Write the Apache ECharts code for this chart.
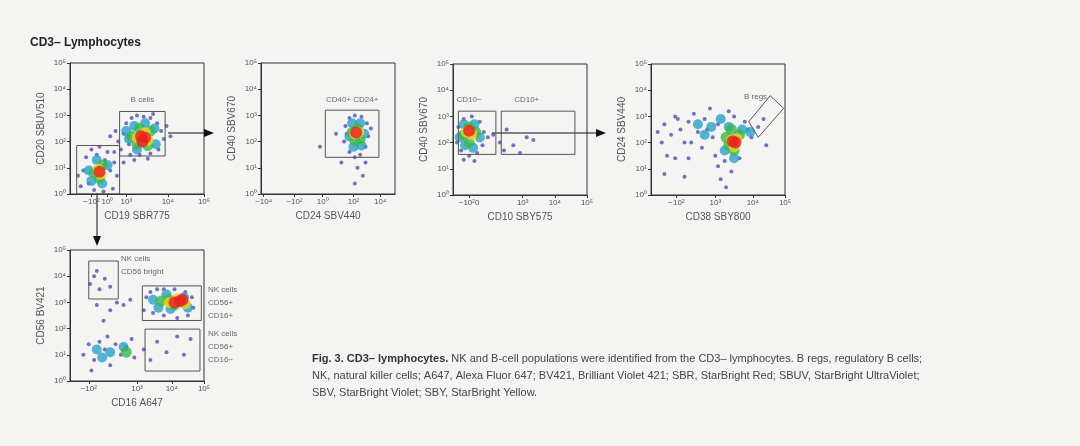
<!DOCTYPE html><html><head><meta charset="utf-8">
<script src="https://cdn.jsdelivr.net/npm/echarts@6/dist/echarts.min.js"></script>
<style>html,body{margin:0;background:#f4f4f3}#c{width:1080px;height:446px}</style></head><body><div id="c"></div><script>
// y: decades 0..5 ; x: 0..100 display scale (biexponential)
const yTicks=['10⁰','10¹','10²','10³','10⁴','10⁵'];
const xTicks=[
 [[16,'−10²'],[28,'10⁰'],[42,'10³'],[73,'10⁴'],[100,'10⁵']],
 [[2,'−10⁴'],[25,'−10²'],[46,'10⁰'],[69,'10²'],[89,'10⁴']],
 [[12,'−10²0'],[52,'10³'],[76,'10⁴'],[100,'10⁵']],
 [[19,'−10²'],[48,'10³'],[76,'10⁴'],[100,'10⁵']],
 [[14,'−10²'],[50,'10³'],[76,'10⁴'],[100,'10⁵']]];
const xNames=['CD19 SBR775','CD24 SBV440','CD10 SBY575','CD38 SBY800','CD16 A647'];
const yNames=['CD20 SBUV510','CD40 SBV670','CD40 SBV670','CD24 SBV440','CD56 BV421'];
// points per density level: blue, cyan, green, yellow, red
const pts=[
 [[[38,1.7],[40,2.3],[42,2.7],[45,1.5],[46,2.9],[50,3.0],[55,2.95],[60,2.9],[65,2.7],[68,2.4],[70,2.1],[66,1.7],[60,1.55],[52,1.5],[44,1.9],[36,2.0],[34,2.4],[40,1.2],[48,1.3],[58,1.35],[62,3.05],[72,2.6],[30,2.2],[33,1.6],[75,2.2],[8,0.3],[10,0.9],[12,1.4],[16,1.7],[22,1.8],[28,1.6],[33,1.2],[35,0.7],[32,0.2],[25,0.1],[18,0.15],[6,0.7],[14,0.4],[30,0.9],[20,1.5],[26,1.3]],
  [[44,2.1],[48,2.6],[56,2.7],[63,2.5],[64,1.9],[50,1.7],[42,2.4],[14,0.9],[20,1.3],[28,1.1],[24,0.4],[16,0.5]],
  [[46,2.2],[52,2.5],[60,2.4],[58,1.85],[50,1.9],[18,0.8],[24,1.1],[22,0.6]],
  [[50,2.15],[56,2.35],[58,2.05],[21,0.95],[23,0.75]],
  [[53,2.2],[56,2.15],[54,2.0],[22,0.85]]],
 [[[62,2.0],[63,2.6],[66,2.9],[70,3.0],[75,2.95],[79,2.7],[80,2.2],[78,1.8],[74,1.5],[70,1.4],[66,1.6],[64,2.3],[72,1.0],[76,0.7],[70,0.4],[78,1.2],[56,2.3],[44,1.8],[60,1.2],[82,2.5]],
  [[66,2.2],[68,2.7],[74,2.7],[77,2.3],[75,1.85],[69,1.8]],
  [[68,2.35],[72,2.5],[74,2.1],[70,2.05]],
  [[70,2.3],[73,2.35]],
  [[71,2.35]]],
 [[[3,2.0],[4,2.6],[8,2.9],[14,3.0],[20,2.8],[23,2.4],[22,1.9],[18,1.6],[12,1.5],[6,1.7],[26,2.2],[30,2.3],[35,2.0],[40,2.5],[45,1.9],[50,1.6],[55,2.2],[60,2.1],[38,1.7],[8,1.35],[16,1.3]],
  [[5,2.2],[8,2.7],[16,2.7],[20,2.2],[15,1.8],[9,1.9]],
  [[8,2.3],[12,2.6],[17,2.4],[12,2.0]],
  [[10,2.4],[14,2.3]],
  [[12,2.45]]],
 [[[5,2.4],[8,2.0],[10,2.7],[15,2.3],[18,3.0],[22,2.5],[25,2.0],[28,2.8],[32,3.1],[35,2.4],[38,1.8],[40,2.9],[44,3.3],[46,2.2],[48,1.5],[50,1.1],[52,0.6],[55,1.3],[58,3.2],[60,0.9],[62,3.0],[66,1.4],[70,2.8],[72,2.5],[75,2.2],[80,2.6],[84,2.9],[86,1.9],[12,1.5],[18,1.4],[28,1.4],[10,0.8],[25,0.7],[56,0.3],[42,2.5],[30,2.0],[20,2.9],[64,1.9],[50,2.7]],
  [[45,2.6],[52,2.9],[58,2.6],[68,2.5],[55,1.7],[62,1.4],[74,2.4],[40,2.3],[35,2.7]],
  [[56,2.2],[60,2.5],[66,2.3],[62,1.7],[58,1.9]],
  [[60,2.1],[64,2.15],[62,1.85]],
  [[63,2.0],[61,2.05]]],
 [[[55,2.7],[57,3.2],[60,3.4],[65,3.5],[70,3.5],[78,3.5],[86,3.4],[91,3.2],[92,2.8],[88,2.5],[80,2.4],[70,2.5],[62,2.6],[40,2.9],[45,3.1],[35,3.0],[30,2.7],[25,2.3],[20,2.9],[10,1.0],[14,1.4],[18,0.8],[22,1.5],[26,1.2],[30,0.6],[34,1.4],[38,1.0],[42,1.3],[46,1.6],[48,0.9],[16,0.4],[28,1.7],[55,1.2],[60,0.8],[65,1.5],[72,1.1],[80,1.7],[85,1.0],[90,1.6],[15,3.7],[18,4.0],[22,3.5],[26,3.9],[30,3.6],[20,4.2]],
  [[62,3.1],[66,2.8],[72,3.3],[75,2.75],[85,3.2],[88,2.8],[20,1.2],[30,1.1],[40,1.3],[24,0.9]],
  [[68,3.05],[74,3.1],[78,2.9],[84,3.0],[42,1.1]],
  [[74,3.0],[80,3.15],[86,2.95]],
  [[78,3.0],[82,3.05],[84,3.1]]]];
const gates=[
 [[[37,1.45],[71,1.45],[71,3.15],[37,3.15],[37,1.45]],[[5,0],[37,0],[37,1.85],[5,1.85],[5,0]]],
 [[[48,1.4],[88,1.4],[88,3.2],[48,3.2],[48,1.4]]],
 [[[4,1.55],[32,1.55],[32,3.2],[4,3.2],[4,1.55]],[[36,1.55],[91,1.55],[91,3.2],[36,3.2],[36,1.55]]],
 [[[73,2.8],[89,3.79],[99,3.31],[80,2.2],[73,2.8]]],
 [[[14,3.13],[36,3.13],[36,4.58],[14,4.58],[14,3.13]],[[54,2.31],[98,2.31],[98,3.63],[54,3.63],[54,2.31]],[[56,0.38],[97,0.38],[97,1.98],[56,1.98],[56,0.38]]]];
const gateLabels=[
 [[54,3.6,'B cells']],
 [[68,3.6,'CD40+ CD24+']],
 [[12,3.65,'CD10−'],[55,3.65,'CD10+']],
 [[78,3.75,'B regs']],
 [[38,4.65,'NK cells'],[38,4.15,'CD56 bright'],[103,3.5,'NK cells'],[103,3.0,'CD56+'],[103,2.5,'CD16+'],[103,1.8,'NK cells'],[103,1.3,'CD56+'],[103,0.8,'CD16−']]];
const grids=[[70,63],[261,63],[453,64],[651,64],[70,250]];
const levelColors=['#3a3a9e','#2aa0c8','#3cb84a','#f0d020','#e82020'];
const levelSizes=[4,10,11,11,12];
const grid=[],xAxis=[],yAxis=[],series=[];
grids.forEach((g,i)=>{
 grid.push({left:g[0],top:g[1],width:134,height:131,show:true,borderColor:'#333',borderWidth:1,backgroundColor:'transparent'});
 const xv=xTicks[i].map(t=>t[0]),xm={};xTicks[i].forEach(t=>xm[t[0]]=t[1]);
 xAxis.push({gridIndex:i,type:'value',min:0,max:100,name:xNames[i],nameLocation:'middle',nameGap:17,nameTextStyle:{fontSize:10,color:'#555',fontFamily:'Liberation Sans'},
  axisLine:{lineStyle:{color:'#333'}},splitLine:{show:false},axisTick:{customValues:xv,length:3,lineStyle:{color:'#333'}},
  axisLabel:{customValues:xv,formatter:v=>xm[v]||'',fontSize:8,color:'#555',margin:4,hideOverlap:false}});
 yAxis.push({gridIndex:i,type:'value',min:0,max:5,interval:1,name:yNames[i],nameLocation:'middle',nameGap:24,nameTextStyle:{fontSize:10,color:'#555',fontFamily:'Liberation Sans'},
  axisLine:{lineStyle:{color:'#333'}},splitLine:{show:false},axisTick:{length:3,lineStyle:{color:'#333'}},
  axisLabel:{formatter:v=>yTicks[v],fontSize:8,color:'#555',margin:4}});
 pts[i].forEach((lv,k)=>series.push({type:'scatter',xAxisIndex:i,yAxisIndex:i,data:lv,symbolSize:levelSizes[k],itemStyle:{color:levelColors[k],opacity:k?0.8:0.7},silent:true}));
 gates[i].forEach(p=>series.push({type:'line',xAxisIndex:i,yAxisIndex:i,data:p,symbol:'none',lineStyle:{color:'#555',width:1},silent:true,z:5}));
 series.push({type:'scatter',xAxisIndex:i,yAxisIndex:i,data:gateLabels[i],symbolSize:0,clip:false,silent:true,
  label:{show:true,formatter:p=>p.data[2],position:'inside',align:i==4?'left':'center',fontSize:8,color:'#444'}});
});
const arrow=(x1,y1,x2,y2)=>({type:'line',shape:{x1,y1,x2,y2},style:{stroke:'#111',lineWidth:1}});
const head=(pts)=>({type:'polygon',shape:{points:pts},style:{fill:'#111'}});
const chart=echarts.init(document.getElementById('c'));
chart.setOption({backgroundColor:'#f4f4f3',animation:false,grid,xAxis,yAxis,series,
 graphic:[
  {type:'text',left:30,top:37,style:{text:'CD3– Lymphocytes',font:'bold 12px Liberation Sans',fill:'#222'}},
  arrow(168,133,206,133),head([[214,133],[204,129],[204,137]]),
  arrow(492,133,598,133),head([[606,133],[596,129],[596,137]]),
  arrow(97,193,97,238),head([[97,246],[93,236],[101,236]]),
  {type:'text',left:312,top:350,style:{rich:{b:{font:'bold 11px Liberation Sans',fill:'#333'},n:{font:'11px Liberation Sans',fill:'#444'}},lineHeight:17,
   text:'{b|Fig. 3. CD3– lymphocytes.}{n| NK and B-cell populations were identified from the CD3– lymphocytes. B regs, regulatory B cells;}\n{n|NK, natural killer cells; A647, Alexa Fluor 647; BV421, Brilliant Violet 421; SBR, StarBright Red; SBUV, StarBright UltraViolet;}\n{n|SBV, StarBright Violet; SBY, StarBright Yellow.}'}}
 ]});
</script></body></html>
